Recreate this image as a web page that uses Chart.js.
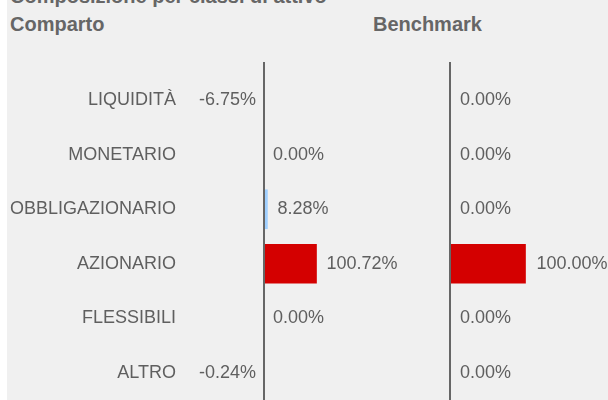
<!DOCTYPE html>
<html>
<head>
<meta charset="utf-8">
<script src="https://cdn.jsdelivr.net/npm/chart.js@4/dist/chart.umd.min.js"></script>
<style>
    html, body { margin: 0; padding: 0; background: #fff; overflow: hidden; }
    #wrap { position: absolute; left: 7px; top: 0; width: 601px; height: 400px; background: #f0f0f0; overflow: hidden; }
    .head { position: absolute; font: bold 20px "Liberation Sans", Arial, sans-serif; color: #666; line-height: 20px; white-space: nowrap; }
    canvas { position: absolute; }
</style>
</head>
<body>
<div id="wrap">
    <div class="head" style="left:3px; top:-14px;">Composizione per classi di attivo</div>
    <div class="head" style="left:3px; top:14px;">Comparto</div>
    <div class="head" style="left:366px; top:14px;">Benchmark</div>
    <canvas id="comparto" width="440" height="338" style="left:-7px; top:62px;"></canvas>
    <canvas id="benchmark" width="168" height="338" style="left:433px; top:62px;"></canvas>
</div>
<script>
const categories = ['LIQUIDITÀ', 'MONETARIO', 'OBBLIGAZIONARIO', 'AZIONARIO', 'FLESSIBILI', 'ALTRO'];
const compartoValues = [-6.75, 0.00, 8.28, 100.72, 0.00, -0.24];
const benchmarkValues = [0.00, 0.00, 0.00, 100.00, 0.00, 0.00];
const barColors = ['#5b9bd5', '#7fb2e5', '#9fcfff', '#d40000', '#f4a300', '#a0a0a0'];

const FONT = '"Liberation Sans", Arial, sans-serif';
const TEXT = '#5f5f5f';

// zero line + value labels next to each bar
const valuePlugin = {
    id: 'valueLabels',
    afterDatasetsDraw(chart, args, opts) {
        const ctx = chart.ctx;
        const xs = chart.scales.x;
        const meta = chart.getDatasetMeta(0);
        const values = chart.data.datasets[0].data;
        const x0 = xs.getPixelForValue(0);

        ctx.save();
        ctx.strokeStyle = '#666';
        ctx.lineWidth = 2;
        ctx.beginPath();
        ctx.moveTo(x0 + 1, 0);
        ctx.lineTo(x0 + 1, chart.height);
        ctx.stroke();

        ctx.font = '18px ' + FONT;
        ctx.fillStyle = TEXT;
        ctx.textBaseline = 'middle';
        meta.data.forEach((bar, i) => {
            const v = values[i];
            const txt = v.toFixed(2) + '%';
            if (v < 0) {
                ctx.textAlign = 'right';
                ctx.fillText(txt, x0 - 7, bar.y);
            } else {
                ctx.textAlign = 'left';
                ctx.fillText(txt, xs.getPixelForValue(v) + opts.gap, bar.y);
            }
        });
        ctx.restore();
    }
};

function createAllocChart(id, values, showLabels, padding, gap) {
    const maxVal = Math.max(...values);
    const ctx = document.getElementById(id).getContext('2d');
    const yAxis = {
        display: showLabels,
        grid: { display: false, drawTicks: false },
        border: { display: false },
        ticks: {
            color: TEXT,
            padding: 87,
            font: { family: FONT, size: 18 }
        }
    };
    if (showLabels) {
        yAxis.afterFit = (scale) => {
            scale.width = 263;
            // tick padding would otherwise shrink the plot vertically
            scale.paddingTop = 0;
            scale.paddingBottom = 0;
        };
    }
    return new Chart(ctx, {
        type: 'bar',
        data: {
            labels: categories,
            datasets: [{
                data: values,
                backgroundColor: barColors,
                borderWidth: 0,
                barThickness: 39
            }]
        },
        options: {
            indexAxis: 'y',
            responsive: false,
            animation: false,
            devicePixelRatio: 1,
            layout: { padding },
            plugins: {
                legend: { display: false },
                tooltip: { enabled: false },
                valueLabels: { gap }
            },
            scales: {
                x: { display: false, min: 0, max: maxVal * 2 },
                y: yAxis
            }
        },
        plugins: [valuePlugin]
    });
}

createAllocChart('comparto', compartoValues, true, { top: 11, right: 70, bottom: 0, left: 0 }, 10);
createAllocChart('benchmark', benchmarkValues, false, { top: 11, right: 6, bottom: 0, left: 9 }, 11);
</script>
</body>
</html>
